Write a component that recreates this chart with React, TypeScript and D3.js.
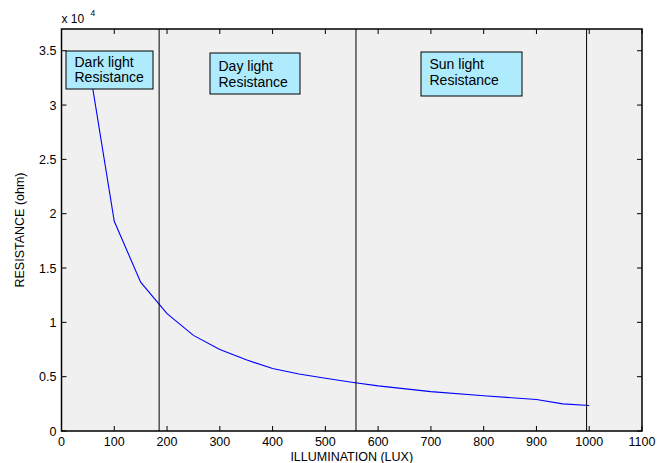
import React from 'react';
import * as d3 from 'd3';

// illumination (lux) vs measured LDR resistance (ohm)
const illumination = [50, 100, 150, 200, 250, 300, 350, 400, 450, 500, 550, 600, 700, 800, 900, 950, 1000];
const resistance = [34300, 19300, 13700, 10800, 8800, 7500, 6550, 5750, 5250, 4850, 4480, 4150, 3620, 3250, 2900, 2500, 2350];

// region boundaries (lux)
const boundaries = [185, 558, 995];
const regionLabels = [
    ['Dark light', 'Resistance'],
    ['Day light', 'Resistance'],
    ['Sun light', 'Resistance'],
];

const xTicks = [0, 100, 200, 300, 400, 500, 600, 700, 800, 900, 1000, 1100];
const yTicks = [0, 5000, 10000, 15000, 20000, 25000, 30000, 35000];
const yTickLabels = ['0', '0.5', '1', '1.5', '2', '2.5', '3', '3.5'];

const W = 657;
const H = 463;
const margin = { top: 29, right: 15, bottom: 32, left: 61.5 };
const font = '"Liberation Sans", Arial, sans-serif';

// annotation boxes (pixel layout)
const boxes = [
    { x: 66, y: 51, w: 87, h: 38, dy: 15.5 },
    { x: 210, y: 53, w: 90, h: 41, dy: 18 },
    { x: 421, y: 52, w: 101, h: 44, dy: 17 },
];

const App = () => {
    const x = d3.scaleLinear().domain([0, 1100]).range([margin.left, W - margin.right]);
    const y = d3.scaleLinear().domain([0, 37000]).range([H - margin.bottom, margin.top]);
    const [x0, x1] = x.range();
    const [y0, y1] = y.range();

    const line = d3.line<number>()
        .x((d, i) => x(illumination[i]))
        .y(d => y(d));

    return (
        <svg width={W} height={H} style={{ position: 'absolute', left: 0, top: 0, background: '#fff' }}
            fontFamily={font}>
            <defs>
                <clipPath id="plot">
                    <rect x={x0} y={y1} width={x1 - x0} height={y0 - y1} />
                </clipPath>
            </defs>
            <rect x={x0} y={y1} width={x1 - x0} height={y0 - y1} fill="#f0f0f0" />

            <path d={line(resistance) || ''} fill="none" stroke="#0000ff" strokeWidth={1.1}
                clipPath="url(#plot)" />

            {boundaries.map(b => (
                <line key={b} x1={x(b)} x2={x(b)} y1={y1} y2={y0} stroke="#000" strokeWidth={1} />
            ))}

            {boxes.map((b, i) => (
                <g key={i}>
                    <rect x={b.x} y={b.y} width={b.w} height={b.h} fill="#aeebfd" stroke="#000" strokeWidth={1} />
                    {regionLabels[i].map((t, j) => (
                        <text key={j} x={b.x + 8.5} y={b.y + b.dy + j * 15.5} fontSize={14} fill="#000">{t}</text>
                    ))}
                </g>
            ))}

            {/* ticks, inward on all four sides */}
            {xTicks.map(t => (
                <g key={'x' + t}>
                    <line x1={x(t)} x2={x(t)} y1={y0} y2={y0 - 5} stroke="#000" />
                    <line x1={x(t)} x2={x(t)} y1={y1} y2={y1 + 5} stroke="#000" />
                    <text x={x(t)} y={y0 + 15} fontSize={12.5} textAnchor="middle">{t}</text>
                </g>
            ))}
            {yTicks.map((t, i) => (
                <g key={'y' + t}>
                    <line x1={x0} x2={x0 + 5} y1={y(t)} y2={y(t)} stroke="#000" />
                    <line x1={x1} x2={x1 - 5} y1={y(t)} y2={y(t)} stroke="#000" />
                    <text x={x0 - 5} y={y(t) + 4.5} fontSize={12.5} textAnchor="end">{yTickLabels[i]}</text>
                </g>
            ))}

            <rect x={x0} y={y1} width={x1 - x0} height={y0 - y1} fill="none" stroke="#000" strokeWidth={1.5} />

            <text x={x0} y={23} fontSize={12}>x 10</text>
            <text x={x0 + 29} y={16} fontSize={8.5}>4</text>

            <text x={(x0 + x1) / 2} y={461} fontSize={12.5} textAnchor="middle">ILLUMINATION (LUX)</text>
            <text transform={`translate(24,${(y0 + y1) / 2}) rotate(-90)`} fontSize={12.5} textAnchor="middle">
                RESISTANCE (ohm)
            </text>
        </svg>
    );
};

export default App;
